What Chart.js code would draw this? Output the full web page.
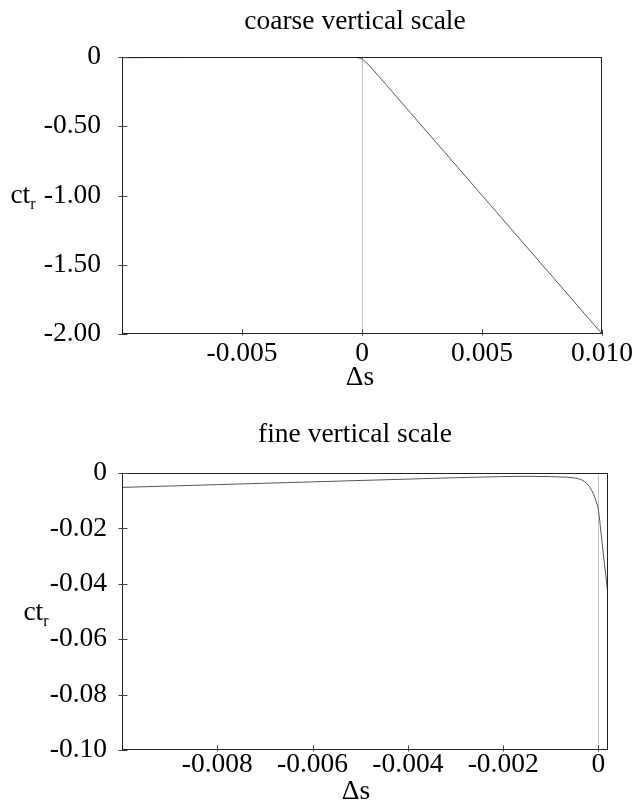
<!DOCTYPE html>
<html><head><meta charset="utf-8">
<script src="https://cdn.jsdelivr.net/npm/chart.js@4.4.1/dist/chart.umd.min.js"></script>
<style>
body{margin:0;background:#fff;}
#wrap{position:relative;width:634px;height:802px;overflow:hidden;font-family:'Liberation Serif','Times New Roman',serif;color:#000;}
canvas{position:absolute;left:0;}
.lbl{position:absolute;transform:translate(-50%,-50%);white-space:nowrap;font-size:27.5px;line-height:1;}
.lbl sub{font-size:16px;vertical-align:-6px;}
</style></head><body>
<div id="wrap">
<canvas id="c1" width="634" height="392" style="top:0"></canvas>
<canvas id="c2" width="634" height="410" style="top:392px"></canvas>
<div class="lbl" style="left:355px;top:20px">coarse vertical scale</div>
<div class="lbl" style="left:360px;top:376px">Δs</div>
<div class="lbl" style="left:23px;top:196px">ct<sub>r</sub></div>
<div class="lbl" style="left:355px;top:433px">fine vertical scale</div>
<div class="lbl" style="left:356px;top:790px">Δs</div>
<div class="lbl" style="left:36px;top:613px">ct<sub>r</sub></div>
</div>
<script>
// coarse vertical scale
const coarseX = [-0.01, -0.008, -0.006, -0.004, -0.002, -0.001, -0.0005, -0.0003, -0.0002, -0.0001, 0, 0.0001, 0.0002, 0.0005, 0.001, 0.002, 0.004, 0.006, 0.008, 0.01];
const coarseY = [-0.0052, -0.0042, -0.0032, -0.0022, -0.0013, -0.0013, -0.0018, -0.0030, -0.0047, -0.0078, -0.0135, -0.0290, -0.0440, -0.100, -0.199, -0.399, -0.799, -1.199, -1.599, -1.999];
const coarseXTicks = [-0.01, -0.005, 0, 0.005, 0.01];
const coarseXLabels = ['', '-0.005', '0', '0.005', '0.010'];
const coarseYTicks = [0, -0.5, -1, -1.5, -2];
const coarseYLabels = ['0', '-0.50', '-1.00', '-1.50', '-2.00'];

// fine vertical scale
const fineX = [-0.01, -0.009, -0.008, -0.007, -0.006, -0.005, -0.004, -0.003, -0.002, -0.0015, -0.001, -0.0007, -0.0005, -0.0004, -0.0003, -0.0002, -0.00015, -0.0001, -0.00005, 0, 0.00005, 0.0001, 0.00015, 0.0002];
const fineY = [-0.0052, -0.0047, -0.0042, -0.0037, -0.0032, -0.0027, -0.0022, -0.0017, -0.0013, -0.0012, -0.0013, -0.0015, -0.0018, -0.0022, -0.0030, -0.0047, -0.0060, -0.0078, -0.0102, -0.0135, -0.0210, -0.0290, -0.0365, -0.0440];
const fineXTicks = [-0.01, -0.008, -0.006, -0.004, -0.002, 0];
const fineXLabels = ['', '-0.008', '-0.006', '-0.004', '-0.002', '0'];
const fineYTicks = [0, -0.02, -0.04, -0.06, -0.08, -0.1];
const fineYLabels = ['0', '-0.02', '-0.04', '-0.06', '-0.08', '-0.10'];

const FONT = {family: "'Liberation Serif','Times New Roman',serif", size: 27.5, lineHeight: 1};

const framePlugin = {
  id: 'frame',
  beforeDatasetsDraw(chart) {
    const {ctx, chartArea: a, scales: {x}} = chart;
    const zx = Math.round(x.getPixelForValue(0)) + 0.5;
    ctx.save();
    ctx.strokeStyle = '#c4c4c4';
    ctx.lineWidth = 1;
    ctx.beginPath(); ctx.moveTo(zx, a.top); ctx.lineTo(zx, a.bottom); ctx.stroke();
    ctx.restore();
  },
  afterDatasetsDraw(chart, args, opts) {
    const {ctx, chartArea: a, scales: {x, y}} = chart;
    const l = Math.round(a.left) + 0.5, r = Math.round(a.right) - 0.5;
    const t = Math.round(a.top) + 0.5, b = Math.round(a.bottom) - 0.5;
    ctx.save();
    ctx.strokeStyle = '#222';
    ctx.lineWidth = 1;
    ctx.strokeRect(l, t, r - l, b - t);
    ctx.strokeStyle = '#444';
    ctx.beginPath();
    opts.xTicks.forEach((v, i) => {
      if (opts.xLabels[i] === '') return;
      const px = Math.round(x.getPixelForValue(v)) + 0.5;
      ctx.moveTo(px, b - 4); ctx.lineTo(px, b + 2);
    });
    opts.yTicks.forEach(v => {
      const py = Math.round(y.getPixelForValue(v)) + 0.5;
      ctx.moveTo(l - 4, py); ctx.lineTo(l + 5, py);
    });
    ctx.stroke();
    ctx.restore();
  }
};

function makeChart(id, xs, ys, xT, xL, yT, yL, xMin, xMax, yMin, yMax, padTop, padRight, xH, yPad, xPad) {
  const pts = xs.map((v, i) => ({x: v, y: ys[i]}));
  return new Chart(document.getElementById(id), {
    type: 'scatter',
    data: {datasets: [{data: pts, showLine: true, pointRadius: 0, borderColor: '#555', borderWidth: 1, cubicInterpolationMode: 'monotone'}]},
    options: {
      responsive: false, maintainAspectRatio: false, animation: false,
      layout: {padding: {top: padTop, right: padRight, left: 0, bottom: 0}},
      plugins: {legend: {display: false}, tooltip: {enabled: false},
        frame: {xTicks: xT, xLabels: xL, yTicks: yT}},
      scales: {
        x: {type: 'linear', min: xMin, max: xMax,
          grid: {display: false}, border: {display: false},
          afterBuildTicks: s => { s.ticks = xT.map(v => ({value: v})); },
          afterFit: s => { s.height = xH; },
          ticks: {autoSkip: false, maxRotation: 0, color: '#000', font: FONT, padding: xPad,
            callback: (v, i) => xL[i]}},
        y: {type: 'linear', min: yMin, max: yMax,
          grid: {display: false}, border: {display: false},
          afterBuildTicks: s => { s.ticks = yT.map(v => ({value: v})); },
          afterFit: s => { s.width = 122; },
          ticks: {autoSkip: false, color: '#000', font: FONT, padding: yPad,
            callback: (v, i) => yL[i]}}
      }
    },
    plugins: [framePlugin]
  });
}

makeChart('c1', coarseX, coarseY, coarseXTicks, coarseXLabels, coarseYTicks, coarseYLabels,
  -0.01, 0.01, -2, 0, 57, 32, 58, 13, -2);
makeChart('c2', fineX, fineY, fineXTicks, fineXLabels, fineYTicks, fineYLabels,
  -0.01, 0.0002, -0.1, 0, 81, 26, 52, 7, -7);
</script>
</body></html>
